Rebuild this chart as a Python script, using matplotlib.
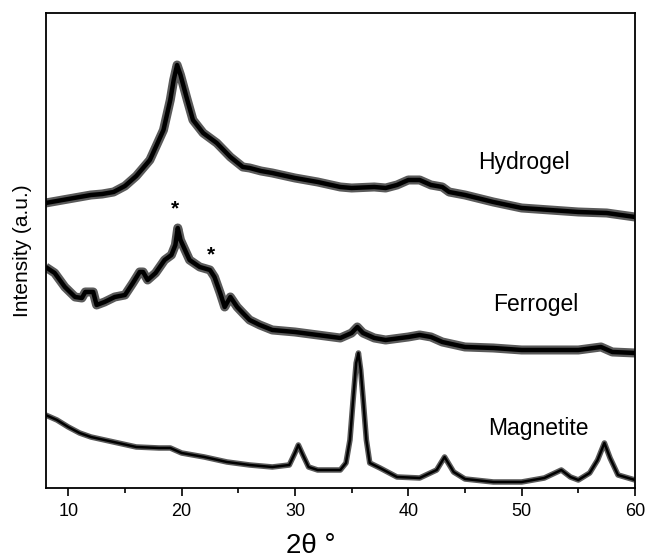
import matplotlib
matplotlib.use("Agg")
import matplotlib.pyplot as plt
from matplotlib.ticker import MultipleLocator, NullLocator

plt.rcParams['font.family'] = ['Liberation Sans', 'DejaVu Sans']

# Hydrogel trace (2theta, intensity a.u.)
hyd_x = [8, 9, 10, 11, 12, 13, 14, 15, 16, 17.2, 18.4, 19, 19.3, 19.6, 19.9, 20.5,
         21, 21.9, 23.1, 24.3, 25.4, 26, 27, 28, 30, 32, 34, 35, 37, 38, 39, 40, 41,
         42, 43, 43.6, 45, 47.5, 50, 52.5, 55, 57.5, 60]
hyd_y = [285, 287, 289, 291, 293, 294, 296, 302, 312, 328, 358, 388, 408, 423, 413, 388,
         368, 355, 345, 331, 321, 320, 317, 315, 310, 306, 301, 300, 301, 300, 303, 308, 308,
         303, 301, 296, 293, 286, 280, 278, 276, 275, 271]

# Ferrogel trace
fer_x = [8, 8.8, 9.7, 10.6, 11.2, 11.5, 12.2, 12.5, 13.2, 14.1, 15.0, 15.7, 16.3, 16.6,
         17.0, 17.7, 18.5, 19.1, 19.45, 19.66, 19.9, 20.3, 20.7, 21.6, 22.5, 22.9, 23.4,
         23.8, 24.3, 24.9, 25.4, 26.0, 26.9, 28, 30, 32, 34, 35, 35.5, 36, 37, 38, 40, 41,
         42, 43, 45, 47.5, 50, 52.5, 55, 57, 58, 60]
fer_y = [221, 215, 201, 191, 190, 196, 196, 183, 186, 191, 193, 205, 216, 216,
         208, 215, 228, 233, 243, 260, 248, 238, 228, 221, 218, 211, 195,
         181, 191, 181, 175, 168, 163, 158, 156, 153, 150, 155, 161, 155, 150, 148, 151, 153,
         151, 146, 141, 140, 138, 138, 138, 141, 136, 135]

# Magnetite trace
mag_x = [8, 9, 10, 11, 12, 14, 16, 18, 19, 20, 22, 24, 26, 28, 29.5, 30, 30.3, 30.7, 31.2, 32,
         34, 34.5, 34.85, 35.15, 35.4, 35.6, 35.8, 36.0, 36.3, 36.6, 37.5, 39, 41, 42.5, 43.2,
         44, 45, 47.5, 50, 52, 53.5, 54.3, 55, 56, 56.7, 57.3, 57.8, 58.5, 60]
mag_y = [73, 68, 61, 55, 51, 46, 41, 40, 40, 35, 31, 26, 23, 21, 23, 35, 43, 33, 21, 18,
         18, 25, 48, 91, 125, 135, 118, 91, 48, 25, 20, 11, 10, 18, 31,
         16, 9, 6, 6, 10, 18, 11, 8, 15, 28, 45, 30, 13, 8]

labels = ["Hydrogel", "Ferrogel", "Magnetite"]
label_x = [46.2, 47.5, 47.05]
label_y = [325, 183, 59]
star_x = [19.4, 22.6]
star_y = [279, 233]
xticks = [10, 20, 30, 40, 50, 60]

fig = plt.figure(figsize=(6.45, 5.6), dpi=100)
ax = fig.add_axes([0.0707, 0.1286, 0.9138, 0.8482])

for xs, ys, wide, core in [(hyd_x, hyd_y, 6.5, 3.2), (fer_x, fer_y, 6.5, 3.2), (mag_x, mag_y, 4.0, 1.8)]:
    ax.plot(xs, ys, color='#5a5a5a', lw=wide, solid_joinstyle='round', solid_capstyle='butt')
    ax.plot(xs, ys, color='black', lw=core, solid_joinstyle='round', solid_capstyle='butt')

ax.set_xlim(8, 60)
ax.set_ylim(0, 475)
ax.set_xticks(xticks)
ax.xaxis.set_minor_locator(MultipleLocator(5))
ax.yaxis.set_major_locator(NullLocator())
ax.tick_params(axis='x', which='major', direction='out', length=5.5, width=1.2, labelsize=13, pad=5)
ax.tick_params(axis='x', which='minor', direction='out', length=3.5, width=1.2)
for s in ax.spines.values():
    s.set_linewidth(1.3)

fig.text(311 / 645, 1 - 546 / 560, "2θ °", fontsize=20, ha='center', va='center')
ax.set_ylabel("Intensity (a.u.)", fontsize=15, labelpad=10)

for lab, lx, ly in zip(labels, label_x, label_y):
    ax.text(lx, ly, lab, fontsize=16.5, ha='left', va='center')
for sx, sy in zip(star_x, star_y):
    ax.text(sx, sy, "*", fontsize=15, ha='center', va='center', fontweight='bold')

fig.savefig("out.png", dpi=100)
